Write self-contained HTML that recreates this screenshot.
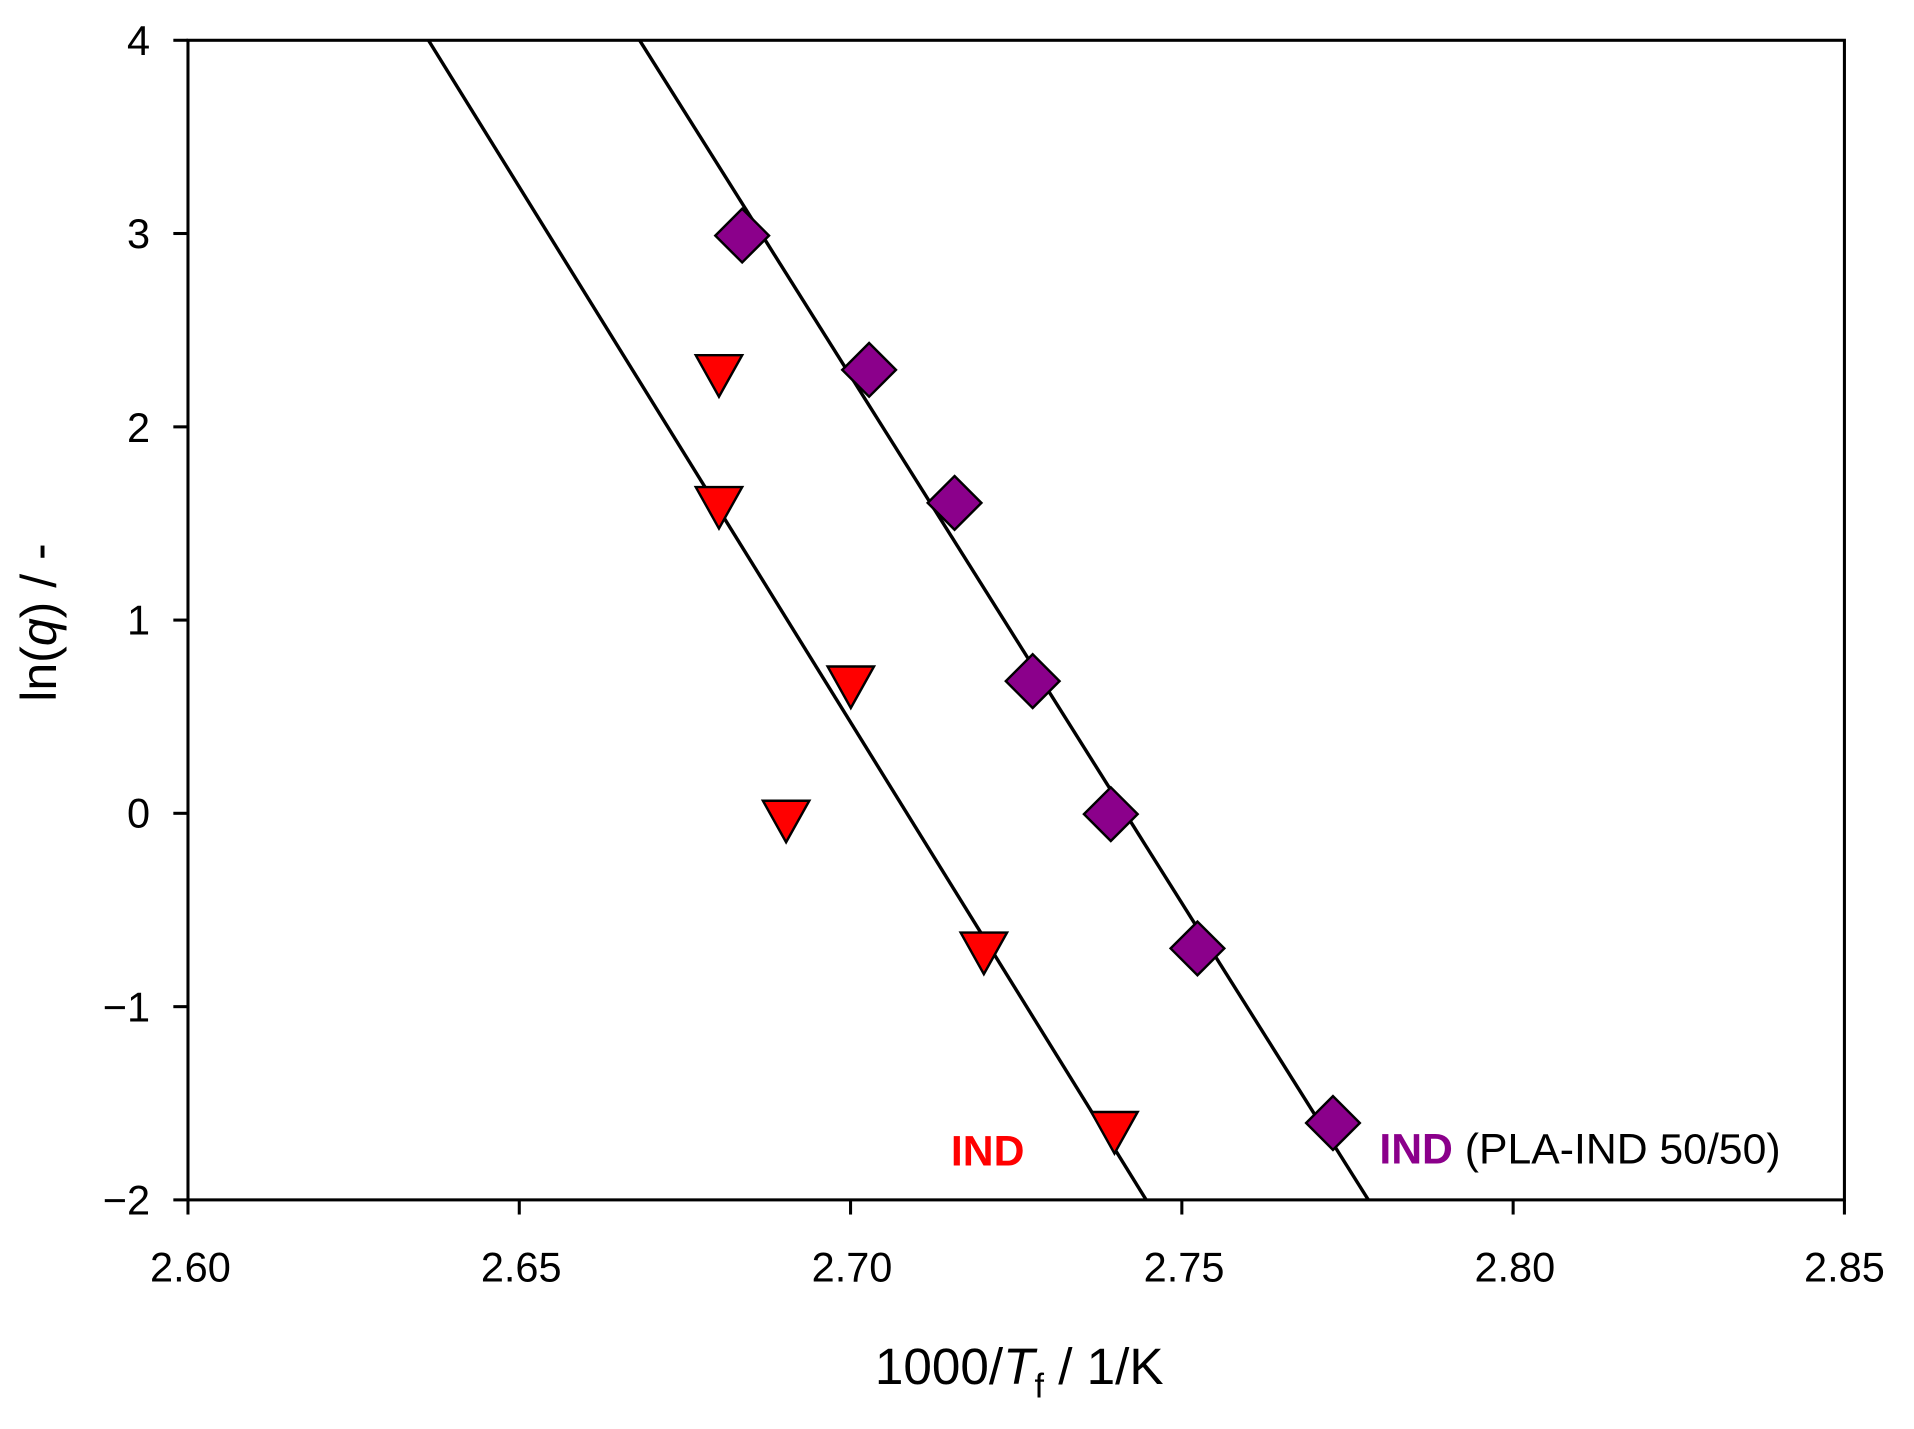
<!DOCTYPE html>
<html><head><meta charset="utf-8"><style>html,body{margin:0;padding:0;background:#fff}svg{display:block}</style></head>
<body>
<svg width="1914" height="1429" viewBox="0 0 1568 1170.7" preserveAspectRatio="none" xmlns="http://www.w3.org/2000/svg" font-family="Liberation Sans, Arial, sans-serif">
<defs>
<clipPath id="c"><rect x="154" y="33" width="1357" height="950"/></clipPath>
</defs>
<rect x="154" y="33" width="1357" height="950" fill="none" stroke="#000" stroke-width="2.5"/>
<g stroke="#000" stroke-width="2.5">
<line x1="142" y1="33" x2="154" y2="33"/><line x1="142" y1="191.3" x2="154" y2="191.3"/><line x1="142" y1="349.7" x2="154" y2="349.7"/><line x1="142" y1="508" x2="154" y2="508"/><line x1="142" y1="666.3" x2="154" y2="666.3"/><line x1="142" y1="824.7" x2="154" y2="824.7"/><line x1="142" y1="983" x2="154" y2="983"/>
<line x1="154" y1="983" x2="154" y2="995"/><line x1="425.4" y1="983" x2="425.4" y2="995"/><line x1="696.8" y1="983" x2="696.8" y2="995"/><line x1="968.2" y1="983" x2="968.2" y2="995"/><line x1="1239.6" y1="983" x2="1239.6" y2="995"/><line x1="1511" y1="983" x2="1511" y2="995"/>
</g>
<g font-size="34" text-anchor="end">
<text x="123" y="45">4</text><text x="123" y="203">3</text><text x="123" y="362">2</text><text x="123" y="520">1</text><text x="123" y="678">0</text><text x="123" y="837">−1</text><text x="123" y="995">−2</text>
</g>
<g font-size="34" text-anchor="middle">
<text x="156" y="1050">2.60</text><text x="427" y="1050">2.65</text><text x="698" y="1050">2.70</text><text x="970" y="1050">2.75</text><text x="1241" y="1050">2.80</text><text x="1511" y="1050">2.85</text>
</g>
<text x="835" y="1134" font-size="42" text-anchor="middle">1000/<tspan font-style="italic">T</tspan><tspan font-size="28" dy="11">f</tspan><tspan dy="-11">  / 1/K</tspan></text>
<text transform="translate(46,510) rotate(-90)" font-size="41" text-anchor="middle">ln(<tspan font-style="italic">q</tspan>) / -</text>
<g clip-path="url(#c)" stroke="#000" stroke-width="2.8">
<line x1="351" y1="33" x2="939" y2="983"/>
<line x1="524" y1="33" x2="1121" y2="983"/>
</g>
<g fill="#ff0000" stroke="#000" stroke-width="2">
<path d="M570,291 L608,291 L589,325 Z"/>
<path d="M570,399 L608,399 L589,433 Z"/>
<path d="M678,546 L716,546 L697,580 Z"/>
<path d="M625,656 L663,656 L644,690 Z"/>
<path d="M787,764 L825,764 L806,798 Z"/>
<path d="M894,911 L932,911 L913,945 Z"/>
</g>
<g fill="#8b008b" stroke="#000" stroke-width="2">
<path d="M608,171 L630,193 L608,215 L586,193 Z"/>
<path d="M712,281 L734,303 L712,325 L690,303 Z"/>
<path d="M782,390 L804,412 L782,434 L760,412 Z"/>
<path d="M846,536 L868,558 L846,580 L824,558 Z"/>
<path d="M910,645 L932,667 L910,689 L888,667 Z"/>
<path d="M981,755 L1003,777 L981,799 L959,777 Z"/>
<path d="M1092,898 L1114,920 L1092,942 L1070,920 Z"/>
</g>
<text x="779" y="955" font-size="35" font-weight="bold" fill="#ff0000">IND</text>
<text x="1130" y="953" font-size="35"><tspan font-weight="bold" fill="#8b008b">IND</tspan> (PLA-IND 50/50)</text>
</svg>
</body></html>
